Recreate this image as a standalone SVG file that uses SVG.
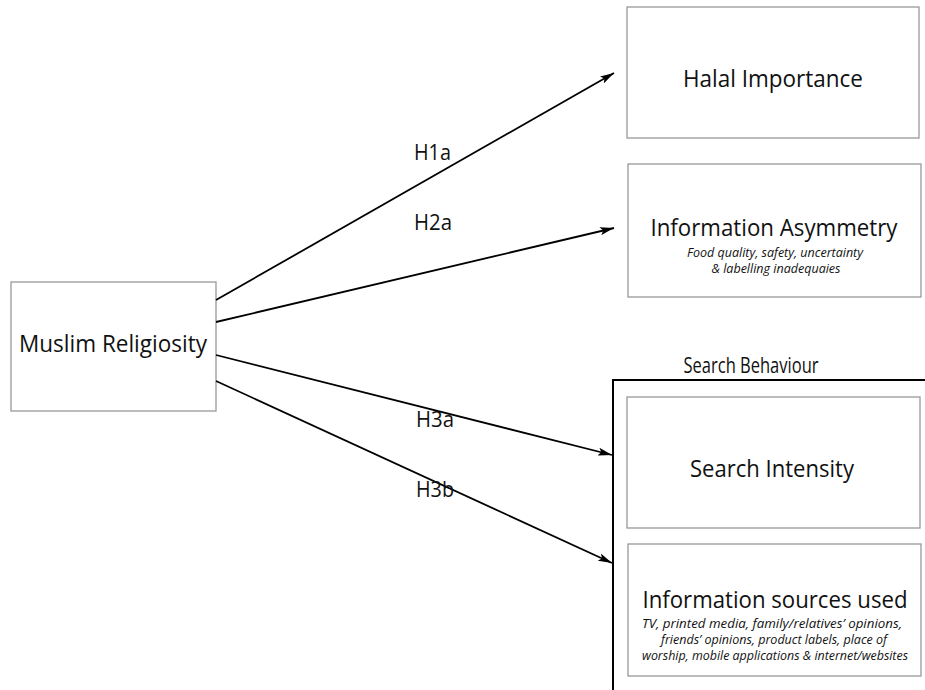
<svg xmlns="http://www.w3.org/2000/svg" width="925" height="690" viewBox="0 0 925 690">
<defs>
<marker id="ah" markerWidth="14" markerHeight="8" refX="14" refY="4" orient="auto" markerUnits="userSpaceOnUse">
<path d="M0,0 L14,4 L0,8 L3,4 Z" fill="#000"/>
</marker>
</defs>
<style>
.box{fill:#fff;stroke:#999;stroke-width:1.3}
.t{font-family:"Open Sans","Liberation Sans",sans-serif;fill:#111;text-anchor:middle}
.title{font-size:24px}
.title2{font-size:23px}
.sub{font-size:12.5px;font-style:italic}
.lbl{font-family:"Open Sans","Liberation Sans",sans-serif;font-size:21px;fill:#111}
.conn{stroke:#000;stroke-width:1.8;fill:none}
</style>
<rect width="925" height="690" fill="#fff"/>
<g id="muslim-religiosity">
<rect class="box" x="11" y="282" width="205" height="129"/>
<text class="t title" x="113" y="352" textLength="188" lengthAdjust="spacingAndGlyphs">Muslim Religiosity</text>
</g>
<g id="halal-importance">
<rect class="box" x="627" y="7" width="292" height="131"/>
<text class="t title" x="773" y="87" textLength="180" lengthAdjust="spacingAndGlyphs">Halal Importance</text>
</g>
<g id="information-asymmetry">
<rect class="box" x="628" y="164" width="293" height="133"/>
<text class="t title2" x="774" y="236" textLength="247" lengthAdjust="spacingAndGlyphs">Information Asymmetry</text>
<text class="t sub" x="775" y="257" textLength="176" lengthAdjust="spacingAndGlyphs">Food quality, safety, uncertainty</text>
<text class="t sub" x="776" y="273" textLength="129" lengthAdjust="spacingAndGlyphs">&amp; labelling inadequaies</text>
</g>
<g id="search-behaviour">
<path d="M613,690 L613,380 L925,380" fill="none" stroke="#000" stroke-width="2"/>
<text class="t" x="751" y="373" font-size="21" textLength="135" lengthAdjust="spacingAndGlyphs">Search Behaviour</text>
</g>
<g id="search-intensity">
<rect class="box" x="627" y="397" width="293" height="131"/>
<text class="t title" x="772" y="477" textLength="164" lengthAdjust="spacingAndGlyphs">Search Intensity</text>
</g>
<g id="information-sources">
<rect class="box" x="628" y="544" width="293" height="132"/>
<text class="t title2" x="775" y="608" textLength="265" lengthAdjust="spacingAndGlyphs">Information sources used</text>
<text class="t sub" x="772" y="628" textLength="260" lengthAdjust="spacingAndGlyphs">TV, printed media, family/relatives’ opinions,</text>
<text class="t sub" x="774" y="644" textLength="226" lengthAdjust="spacingAndGlyphs">friends’ opinions, product labels, place of</text>
<text class="t sub" x="775" y="660" textLength="266" lengthAdjust="spacingAndGlyphs">worship, mobile applications &amp; internet/websites</text>
</g>
<g id="connectors">
<line class="conn" x1="216" y1="300" x2="614" y2="73" marker-end="url(#ah)"/>
<line class="conn" x1="216" y1="322" x2="614" y2="228" marker-end="url(#ah)"/>
<line class="conn" x1="216" y1="355" x2="612" y2="455" marker-end="url(#ah)"/>
<line class="conn" x1="216" y1="381" x2="612" y2="563" marker-end="url(#ah)"/>
<text class="lbl" x="414" y="160" textLength="37" lengthAdjust="spacingAndGlyphs">H1a</text>
<text class="lbl" x="414" y="230" textLength="38" lengthAdjust="spacingAndGlyphs">H2a</text>
<text class="lbl" x="416" y="427" textLength="38" lengthAdjust="spacingAndGlyphs">H3a</text>
<text class="lbl" x="416" y="497" textLength="38" lengthAdjust="spacingAndGlyphs">H3b</text>
</g>
</svg>
